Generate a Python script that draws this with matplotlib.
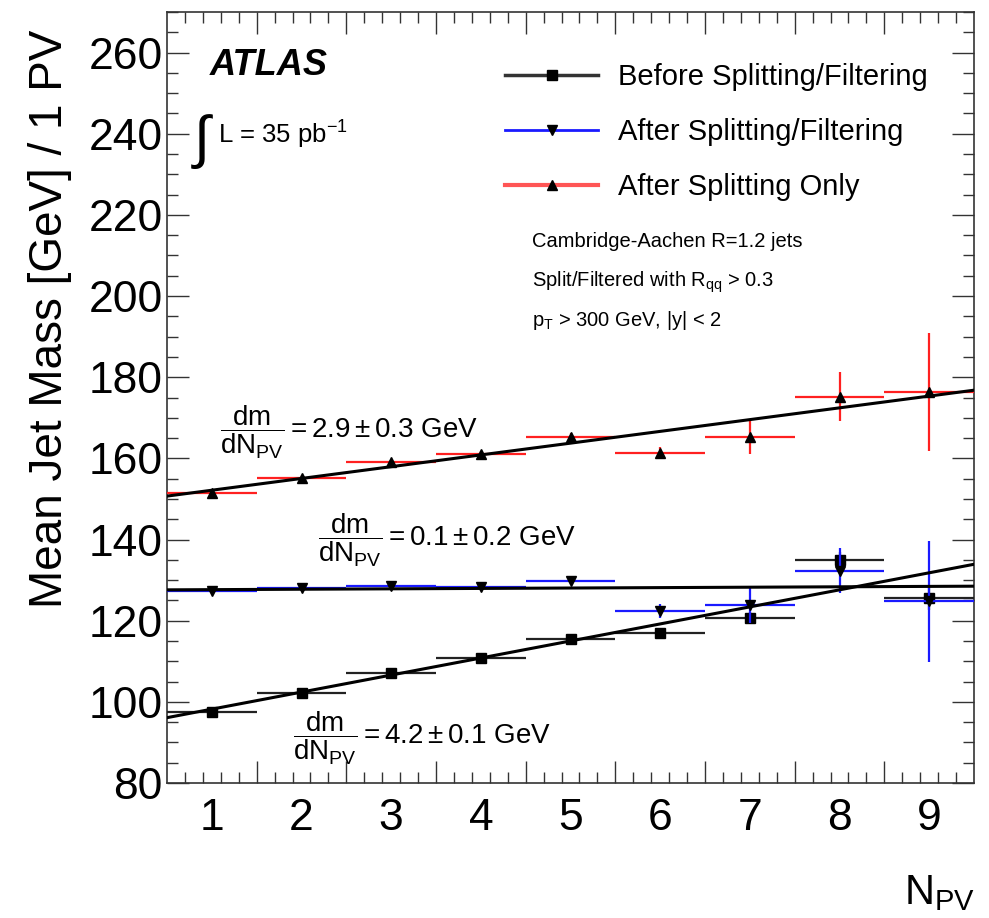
import numpy as np
import matplotlib
matplotlib.use("Agg")
import matplotlib.pyplot as plt
from matplotlib.lines import Line2D
from matplotlib.ticker import FixedLocator, MultipleLocator

plt.rcParams['font.family'] = ['Liberation Sans', 'DejaVu Sans']
plt.rcParams['mathtext.fontset'] = 'custom'
plt.rcParams['mathtext.rm'] = 'Liberation Sans'
plt.rcParams['mathtext.it'] = 'Liberation Sans:italic'
plt.rcParams['mathtext.bf'] = 'Liberation Sans:bold'

# ---------------- data ----------------
npv = [1, 2, 3, 4, 5, 6, 7, 8, 9]
bin_halfwidth = [0.5] * 9

before = [97.6, 102.2, 107.2, 110.9, 115.4, 116.9, 120.6, 134.9, 125.7]
before_err = [0.5, 0.5, 0.6, 0.7, 0.8, 1.0, 1.5, 2.0, 3.0]

after_sf = [127.2, 128.0, 128.5, 128.2, 129.9, 122.3, 123.8, 132.3, 124.8]
after_sf_err = [0.5, 0.5, 0.6, 0.7, 0.9, 1.7, 4.3, 5.5, 14.9]

after_so = [151.4, 155.2, 159.1, 161.1, 165.3, 161.3, 165.3, 175.2, 176.4]
after_so_err = [0.5, 0.6, 0.6, 0.8, 1.0, 1.5, 4.3, 6.0, 14.6]

# linear fits: (intercept, slope)
fit_before = (94.0, 4.2)
fit_after_sf = (127.55, 0.1)
fit_after_so = (149.25, 2.9)
fit_range = [0.5, 9.5]

series_labels = ["Before Splitting/Filtering", "After Splitting/Filtering", "After Splitting Only"]
slope_texts = ["2.9 \\pm 0.3", "0.1 \\pm 0.2", "4.2 \\pm 0.1"]

# ---------------- figure ----------------
fig = plt.figure(figsize=(9.89, 9.18), dpi=100)
ax = fig.add_axes([167/989, 1-783/918, 807/989, 771/918])
ax.set_xlim(0.5, 9.5)
ax.set_ylim(80, 270)

BLUE = '#1a1aff'
RED = '#ff2020'
elw = 1.6
ms = 7

ax.errorbar(npv, before, xerr=bin_halfwidth, yerr=before_err, fmt='s', color='#222222',
            mfc='k', mec='k', ms=ms, elinewidth=elw, capsize=0, zorder=3)
ax.errorbar(npv, after_sf, xerr=bin_halfwidth, yerr=after_sf_err, fmt='v', color=BLUE,
            mfc='k', mec='k', ms=ms, elinewidth=elw, capsize=0, zorder=4)
ax.errorbar(npv, after_so, xerr=bin_halfwidth, yerr=after_so_err, fmt='^', color=RED,
            mfc='k', mec='k', ms=ms, elinewidth=elw, capsize=0, zorder=5)

xf = np.array(fit_range)
for (b0, b1) in (fit_before, fit_after_sf, fit_after_so):
    ax.plot(xf, b0 + b1 * xf, color='k', lw=2.2, zorder=6)

# ---------------- axes style ----------------
for s in ax.spines.values():
    s.set_color('#333333')
    s.set_linewidth(1.2)

ax.xaxis.set_major_locator(FixedLocator(np.arange(1.5, 9.0, 1.0)))
ax.xaxis.set_minor_locator(FixedLocator(np.arange(0.7, 9.4, 0.2)))
ax.yaxis.set_major_locator(MultipleLocator(20))
ax.yaxis.set_minor_locator(MultipleLocator(5))
ax.tick_params(which='both', direction='in', top=True, right=True, color='#333333', width=1.0)
ax.tick_params(which='major', length=16)
ax.tick_params(which='minor', length=8)
ax.tick_params(axis='x', which='both', labelbottom=False)
ax.tick_params(axis='y', labelsize=32, pad=3)
ax.set_yticks(np.arange(80, 261, 20))

sec = ax.secondary_xaxis('bottom')
sec.set_xticks(npv)
sec.set_xticklabels([str(v) for v in npv])
sec.tick_params(length=0, labelsize=32, pad=11)
sec.spines['bottom'].set_visible(False)

ax.set_ylabel("Mean Jet Mass [GeV] / 1 PV", fontsize=33, loc='top')
ax.yaxis.set_label_coords(-0.118, 0.977)
fig.text(975/989, 1-873/918, r"N$_{\mathregular{PV}}$", fontsize=30, ha='right', va='top')

# ---------------- texts ----------------
ax.text(0.053, 0.931, "ATLAS", transform=ax.transAxes, fontsize=26, fontweight='bold',
        fontstyle='italic', ha='left', va='center')
ax.text(0.044, 0.832, r"$\int$", transform=ax.transAxes, fontsize=42, ha='center', va='center')
ax.text(0.063, 0.840, r"L = 35 pb$^{\mathregular{-1}}$", transform=ax.transAxes, fontsize=18.5,
        ha='left', va='center')

for i, t in enumerate(["Cambridge-Aachen R=1.2 jets",
                       r"Split/Filtered with R$_{\mathregular{qq}}$ > 0.3",
                       r"p$_{\mathregular{T}}$ > 300 GeV, |y| < 2"]):
    ax.text(0.452, [0.702, 0.650, 0.600][i], t, transform=ax.transAxes, fontsize=14.5,
            ha='left', va='center')

ann_pos = [(0.066, 0.455), (0.187, 0.315), (0.156, 0.058)]
for (x, y), st in zip(ann_pos, slope_texts):
    ax.text(x, y, r"$\dfrac{\mathrm{dm}}{\mathrm{dN_{PV}}} = " + st + r"\ \mathrm{GeV}$",
            transform=ax.transAxes, fontsize=20, ha='left', va='center')

handles = [Line2D([], [], color='#333333', lw=2.5, marker='s', mfc='k', mec='k', ms=7),
           Line2D([], [], color=BLUE, lw=2, marker='v', mfc='k', mec='k', ms=7),
           Line2D([], [], color='#ff5555', lw=3, marker='^', mfc='k', mec='k', ms=7)]
ax.legend(handles, series_labels, loc='upper left', bbox_to_anchor=(0.419, 0.934),
          frameon=False, fontsize=21, handlelength=3.2, handletextpad=0.68,
          labelspacing=0.93, borderpad=0, borderaxespad=0)

fig.savefig("out.png", dpi=100)
